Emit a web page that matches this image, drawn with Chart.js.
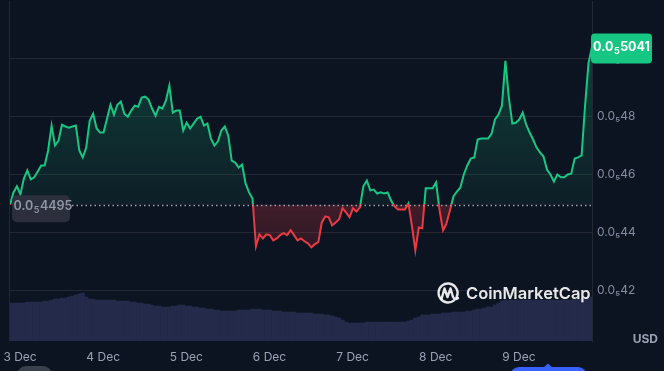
<!DOCTYPE html>
<html>
<head>
<meta charset="utf-8">
<script src="https://cdn.jsdelivr.net/npm/chart.js@4.4.1/dist/chart.umd.min.js"></script>
<style>
  html, body { margin: 0; padding: 0; background: #0d1421; }
  #wrap { width: 664px; height: 371px; }
</style>
</head>
<body>
<div id="wrap"><canvas id="chart" width="664" height="371"></canvas></div>
<script>
// preco em unidades de 0.0₅1 USD (1e-6), um ponto por hora
var startHour = -2.9; // horas a partir de 3 Dec 00:00
var price = [
  4.495, 4.538, 4.559, 4.531, 4.586, 4.614, 4.583, 4.590, 4.610, 4.631,
  4.631, 4.683, 4.769, 4.700, 4.717, 4.772, 4.766, 4.762, 4.766, 4.769,
  4.683, 4.659, 4.693, 4.786, 4.810, 4.759, 4.745, 4.745, 4.793, 4.841,
  4.807, 4.841, 4.852, 4.810, 4.800, 4.821, 4.838, 4.834, 4.866, 4.869,
  4.859, 4.828, 4.803, 4.834, 4.828, 4.855, 4.907, 4.814, 4.821, 4.821,
  4.752, 4.779, 4.759, 4.776, 4.793, 4.800, 4.769, 4.776, 4.724, 4.700,
  4.714, 4.752, 4.766, 4.734, 4.648, 4.641, 4.624, 4.634, 4.569, 4.538,
  4.517, 4.352, 4.393, 4.379, 4.393, 4.390, 4.372, 4.379, 4.390, 4.397,
  4.390, 4.407, 4.390, 4.372, 4.379, 4.369, 4.362, 4.348, 4.359, 4.366,
  4.434, 4.455, 4.452, 4.424, 4.434, 4.445, 4.483, 4.469, 4.452, 4.483,
  4.472, 4.486, 4.559, 4.579, 4.545, 4.548, 4.534, 4.538, 4.534, 4.538,
  4.510, 4.490, 4.479, 4.479, 4.479, 4.500, 4.424, 4.338, 4.417, 4.414,
  4.552, 4.552, 4.552, 4.572, 4.476, 4.407, 4.431, 4.476, 4.524, 4.541,
  4.555, 4.600, 4.631, 4.655, 4.659, 4.721, 4.724, 4.724, 4.724, 4.741,
  4.790, 4.807, 4.838, 4.993, 4.866, 4.776, 4.779, 4.790, 4.814, 4.772,
  4.745, 4.721, 4.693, 4.676, 4.662, 4.617, 4.600, 4.576, 4.600, 4.590,
  4.590, 4.600, 4.603, 4.655, 4.659, 4.666, 4.838, 4.986, 5.041
];
var volume = [
  38, 38, 38, 38, 38, 39, 39, 39, 39, 39,
  40, 40, 41, 42, 42, 43, 43, 44, 45, 46,
  47, 48, 44, 42, 42, 41, 41, 41, 41, 41,
  41, 40, 40, 40, 40, 39, 39, 38, 38, 37,
  37, 36, 35, 35, 34, 34, 34, 35, 35, 36,
  36, 35, 35, 34, 34, 33, 33, 32, 32, 31,
  31, 30, 30, 30, 30, 30, 31, 31, 31, 31,
  32, 32, 32, 31, 31, 31, 30, 30, 30, 29,
  29, 29, 29, 28, 28, 28, 28, 28, 27, 27,
  27, 26, 26, 25, 24, 23, 21, 19, 18, 18,
  18, 18, 18, 19, 19, 19, 19, 19, 19, 19,
  19, 19, 19, 19, 19, 20, 21, 23, 24, 26,
  26, 26, 27, 27, 27, 28, 28, 28, 29, 29,
  29, 29, 30, 30, 31, 32, 32, 33, 34, 34,
  36, 38, 40, 41, 41, 41, 41, 41, 41, 41,
  41, 41, 41, 41, 41, 41, 41, 41, 41, 41,
  41, 41, 41, 42, 42, 42, 43, 43, 44
];
var basePrice = 4.495;
var dayTicks = [0, 24, 48, 72, 96, 120, 144];
var dayLabels = ['3 Dec', '4 Dec', '5 Dec', '6 Dec', '7 Dec', '8 Dec', '9 Dec'];
var priceTicks = [4.2, 4.4, 4.6, 4.8, 5.0];

var green = '#16c784';
var red = '#ea3943';
var gridColor = '#232734';

var pricePoints = price.map(function (p, i) { return { x: startHour + i, y: p }; });
var volumePoints = volume.map(function (v, i) { return { x: startHour + i, y: v }; });

// desenha "0.0₅xxxx" com o 5 em subscrito
function drawSubPrice(ctx, digits, x, y, size, weight, color, align) {
  var big = weight + ' ' + size + 'px Inter';
  var small = weight + ' ' + Math.round(size * 0.72) + 'px Inter';
  ctx.font = big;
  var w1 = ctx.measureText('0.0').width;
  var w3 = ctx.measureText(digits).width;
  ctx.font = small;
  var w2 = ctx.measureText('5').width + 1;
  var total = w1 + w2 + w3;
  var sx = align === 'center' ? x - total / 2 : x;
  ctx.fillStyle = color;
  ctx.textBaseline = 'middle';
  ctx.textAlign = 'left';
  ctx.font = big;
  ctx.fillText('0.0', sx, y);
  ctx.font = small;
  ctx.fillText('5', sx + w1 + 0.5, y + size * 0.32);
  ctx.font = big;
  ctx.fillText(digits, sx + w1 + w2, y);
}

function roundRect(ctx, x, y, w, h, r) {
  ctx.beginPath();
  ctx.moveTo(x + r, y);
  ctx.arcTo(x + w, y, x + w, y + h, r);
  ctx.arcTo(x + w, y + h, x, y + h, r);
  ctx.arcTo(x, y + h, x, y, r);
  ctx.arcTo(x, y, x + w, y, r);
  ctx.closePath();
}

// tira o espaco extra que as escalas reservam para os rotulos
function noPadding(scale) {
  scale.paddingTop = 0;
  scale.paddingBottom = 0;
  scale.paddingLeft = 0;
  scale.paddingRight = 0;
}

var extras = {
  id: 'extras',
  beforeDraw: function (chart) {
    var ctx = chart.ctx;
    ctx.save();
    ctx.fillStyle = '#0d1421';
    ctx.fillRect(0, 0, chart.width, chart.height);
    ctx.restore();
  },
  afterDatasetsDraw: function (chart) {
    var ctx = chart.ctx;
    var area = chart.chartArea;
    var by = Math.round(chart.scales.y.getPixelForValue(basePrice)) + 0.5;
    ctx.save();
    // linha pontilhada do preco inicial
    ctx.strokeStyle = '#9aa0ae';
    ctx.lineWidth = 1.5;
    ctx.setLineDash([1.5, 3]);
    ctx.beginPath();
    ctx.moveTo(area.left + 62, by);
    ctx.lineTo(area.right, by);
    ctx.stroke();
    ctx.setLineDash([]);
    // borda esquerda
    ctx.strokeStyle = gridColor;
    ctx.lineWidth = 1;
    ctx.beginPath();
    ctx.moveTo(area.left - 0.5, area.top);
    ctx.lineTo(area.left - 0.5, area.bottom);
    ctx.stroke();
    ctx.restore();
  },
  afterDraw: function (chart) {
    var ctx = chart.ctx;
    var area = chart.chartArea;
    var ys = chart.scales.y;
    ctx.save();

    // marca d'agua CoinMarketCap
    ctx.globalAlpha = 0.9;
    ctx.strokeStyle = '#ffffff';
    ctx.lineWidth = 2.4;
    ctx.lineCap = 'round';
    ctx.lineJoin = 'round';
    ctx.beginPath();
    ctx.arc(448, 293, 9.5, 0.28 * Math.PI, 2.15 * Math.PI);
    ctx.stroke();
    ctx.beginPath();
    ctx.moveTo(441.5, 299);
    ctx.lineTo(444.5, 288.5);
    ctx.lineTo(447.5, 297);
    ctx.lineTo(450.5, 288.5);
    ctx.lineTo(453, 297);
    ctx.quadraticCurveTo(455, 300.5, 458, 298);
    ctx.stroke();
    ctx.fillStyle = '#ffffff';
    ctx.font = '600 16.5px Inter';
    ctx.textAlign = 'left';
    ctx.textBaseline = 'middle';
    ctx.fillText('CoinMarketCap', 466, 294);
    ctx.globalAlpha = 1;

    // etiqueta do preco inicial
    var by = ys.getPixelForValue(basePrice);
    ctx.fillStyle = 'rgba(46,50,62,0.92)';
    roundRect(ctx, 12, by - 9.5, 58, 27, 5);
    ctx.fill();
    drawSubPrice(ctx, String(Math.round(basePrice * 1000)), 13.5, by + 1.5, 12.5, '600', '#8f96a6', 'left');

    // etiqueta do ultimo preco
    var last = price[price.length - 1];
    var ly = ys.getPixelForValue(last);
    ctx.fillStyle = green;
    roundRect(ctx, area.right - 1, ly - 13.5, 61, 30, 4);
    ctx.fill();
    drawSubPrice(ctx, String(Math.round(last * 1000)), area.right + 29.5, ly, 12.5, '700', '#ffffff', 'center');

    // USD
    ctx.fillStyle = '#9aa1b3';
    ctx.font = '700 12px Inter';
    ctx.textAlign = 'right';
    ctx.textBaseline = 'middle';
    ctx.fillText('USD', 658, 339);

    // botoes cortados no rodape
    ctx.fillStyle = '#3b404d';
    roundRect(ctx, 17, 366, 35, 20, 9);
    ctx.fill();
    ctx.fillStyle = '#3861fb';
    roundRect(ctx, 510, 367, 77, 20, 9);
    ctx.fill();
    ctx.beginPath();
    ctx.moveTo(543, 368);
    ctx.lineTo(548, 363.5);
    ctx.lineTo(553, 368);
    ctx.closePath();
    ctx.fill();
    ctx.restore();
  }
};

var ctx = document.getElementById('chart').getContext('2d');
var chart = new Chart(ctx, {
  type: 'line',
  data: {
    datasets: [{
      type: 'line',
      data: pricePoints,
      yAxisID: 'y',
      borderColor: green,
      borderWidth: 2,
      pointRadius: 0,
      tension: 0,
      fill: { target: { value: basePrice }, above: 'rgba(22,199,132,0.12)', below: 'rgba(234,57,67,0.18)' },
      order: 1
    }, {
      type: 'bar',
      data: volumePoints,
      yAxisID: 'yv',
      backgroundColor: '#232a4a',
      borderWidth: 0,
      barPercentage: 1,
      categoryPercentage: 1,
      order: 2
    }]
  },
  options: {
    responsive: false,
    animation: false,
    layout: { padding: { left: 10, top: 0, right: 0, bottom: 0 } },
    plugins: { legend: { display: false }, tooltip: { enabled: false } },
    scales: {
      x: {
        type: 'linear',
        min: startHour,
        max: startHour + price.length - 1,
        offset: false,
        grid: { display: false, drawTicks: false },
        border: { display: false },
        afterBuildTicks: function (scale) {
          scale.ticks = dayTicks.map(function (v) { return { value: v }; });
        },
        afterFit: function (scale) { scale.height = 30; noPadding(scale); },
        ticks: {
          autoSkip: false,
          maxRotation: 0,
          padding: 9,
          color: '#9aa1b3',
          font: { family: 'Inter', size: 12 },
          callback: function (value) { return dayLabels[dayTicks.indexOf(value)]; }
        }
      },
      y: {
        position: 'right',
        min: 4.024,
        max: 5.2,
        grid: { color: gridColor, drawTicks: false },
        border: { display: true, color: gridColor },
        afterBuildTicks: function (scale) {
          scale.ticks = priceTicks.map(function (v) { return { value: v }; });
        },
        afterFit: function (scale) { scale.width = 72; noPadding(scale); },
        ticks: {
          padding: 5,
          color: '#858ca0',
          font: { family: 'Inter', size: 12 },
          callback: function (value) {
            return '0.0\u2085' + String(Math.round(value * 100)).replace(/0+$/, '');
          }
        }
      },
      yv: {
        display: false,
        min: 0,
        max: Math.max.apply(null, volume) / 0.141
      }
    }
  },
  plugins: [extras]
});

// gradientes dependem da posicao da linha base em pixels
var area = chart.chartArea;
var baseY = chart.scales.y.getPixelForValue(basePrice);
var topY = chart.scales.y.getPixelForValue(Math.max.apply(null, price));
var f = (baseY - area.top) / (area.bottom - area.top);

var stroke = ctx.createLinearGradient(0, area.top, 0, area.bottom);
stroke.addColorStop(0, green);
stroke.addColorStop(f, green);
stroke.addColorStop(f, red);
stroke.addColorStop(1, red);

var upFill = ctx.createLinearGradient(0, topY, 0, baseY);
upFill.addColorStop(0, 'rgba(22,199,132,0.24)');
upFill.addColorStop(1, 'rgba(22,199,132,0.06)');

var downFill = ctx.createLinearGradient(0, baseY, 0, baseY + 50);
downFill.addColorStop(0, 'rgba(234,57,67,0.23)');
downFill.addColorStop(1, 'rgba(234,57,67,0.13)');

chart.data.datasets[0].borderColor = stroke;
chart.data.datasets[0].fill = { target: { value: basePrice }, above: upFill, below: downFill };
chart.update('none');
</script>
</body>
</html>
